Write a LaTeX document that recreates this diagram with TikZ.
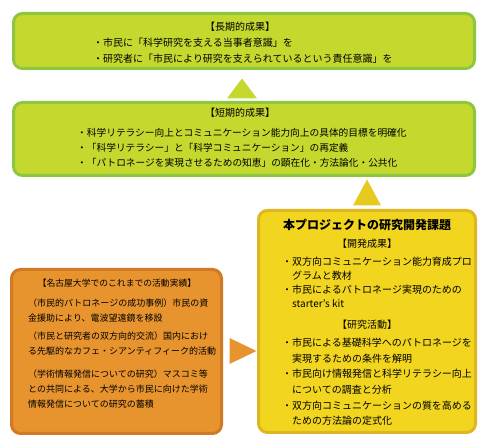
\documentclass[tikz,border=0pt]{standalone}
\usepackage{fontspec}
\setmainfont{Noto Sans CJK JP}
\usepackage{tikz}
\usetikzlibrary{calc}

\definecolor{leaffill}{RGB}{196,216,46}
\definecolor{leafline}{RGB}{141,198,63}
\definecolor{sunfill}{RGB}{242,213,30}
\definecolor{sunline}{RGB}{221,182,34}
\definecolor{amberfill}{RGB}{232,148,46}
\definecolor{amberline}{RGB}{209,121,36}

\begin{document}
\begin{tikzpicture}[x=1pt, y=1pt,
  goalbox/.style={rectangle, draw=leafline, fill=leaffill, line width=3pt,
                  rounded corners=9pt, minimum width=461pt},
  projbox/.style={rectangle, draw=sunline, fill=sunfill, line width=3pt,
                  rounded corners=9pt},
  pastbox/.style={rectangle, draw=amberline, fill=amberfill, line width=3pt,
                  rounded corners=9pt},
  heading/.style={inner sep=0pt, font=\fontsize{10}{12}\selectfont},
  bullets/.style={inner sep=0pt, align=left, anchor=north west}
]
\useasboundingbox (0,0) rectangle (488,-446);

%% Boxes -- fixed coordinates
\node[goalbox, minimum height=55pt]  at (244,-41)      (longterm)  {};
\node[goalbox, minimum height=73pt]  at (244,-139)     (shortterm) {};
\node[projbox, minimum width=217pt, minimum height=222pt]
      at (367,-321.5) (project) {};
\node[pastbox, minimum width=210pt, minimum height=164pt]
      at (116.5,-351.5) (nagoya) {};

%% Triangles between the boxes
\fill[leaffill] ($(shortterm.north)+(-17,2.5)$) -- ($(shortterm.north)+(-2,22.5)$)
  -- ($(shortterm.north)+(13,2.5)$) -- cycle;
\fill[sunfill!95!black] ($(project.north)+(-14,3.5)$) -- ($(project.north)+(0,29.5)$)
  -- ($(project.north)+(14,3.5)$) -- cycle;
\fill[amberfill] ($(nagoya.east)+(6.5,13.5)$) -- ($(nagoya.east)+(33.5,0.5)$)
  -- ($(nagoya.east)+(6.5,-12.5)$) -- cycle;

%% Long-term results
\node[heading] at (240,-27) (longhead) {【長期的成果】};
\node[bullets, font=\fontsize{10}{16}\selectfont] at (93,-38) (longlist)
  {・市民に「科学研究を支える当事者意識」を\\
   ・研究者に「市民により研究を支えられているという責任意識」を};

%% Short-term results
\node[heading] at (240,-113) (shorthead) {【短期的成果】};
\node[bullets, font=\fontsize{9.7}{15}\selectfont] at (77,-128) (shortlist)
  {・科学リテラシー向上とコミュニケーション能力向上の具体的目標を明確化\\
   ・「科学リテラシー」と「科学コミュニケーション」の再定義\\
   ・「パトロネージを実現させるための知恵」の顕在化・方法論化・公共化};

%% This project
\node[heading, font=\fontsize{12}{14}\selectfont\bfseries] at (367,-225) (projhead)
  {本プロジェクトの研究開発課題};
\node[heading] at (367,-244) (devhead) {【開発成果】};
\node[bullets, font=\fontsize{10}{13.9}\selectfont] at (282,-256.7) (devlist)
  {・双方向コミュニケーション能力育成プロ\\
   \hspace*{1em}グラムと教材\\
   ・市民によるパトロネージ実現のための\\
   \hspace*{1em}starter's kit};
\node[heading] at (367,-325) (reshead) {【研究活動】};
\node[bullets, font=\fontsize{10}{15.6}\selectfont] at (282,-338) (reslist)
  {・市民による基礎科学へのパトロネージを\\
   \hspace*{1em}実現するための条件を解明\\
   ・市民向け情報発信と科学リテラシー向上\\
   \hspace*{1em}についての調査と分析\\
   ・双方向コミュニケーションの質を高める\\
   \hspace*{1em}ための方法論の定式化};

%% Nagoya University so far
\node[heading, font=\fontsize{8.8}{11}\selectfont] at (117,-283) (pasthead)
  {【名古屋大学でのこれまでの活動実績】};
\node[bullets, font=\fontsize{9}{15}\selectfont] at (28,-298.5) (pastlist)
  {（市民的パトロネージの成功事例）市民の資\\
   金援助により、電波望遠鏡を移設\\[3pt]
   （市民と研究者の双方向的交流）国内におけ\\
   る先駆的なカフェ・シアンティフィーク的活動\\[8pt]
   （学術情報発信についての研究）マスコミ等\\
   との共同による、大学から市民に向けた学術\\
   情報発信についての研究の蓄積};
\end{tikzpicture}
\end{document}
